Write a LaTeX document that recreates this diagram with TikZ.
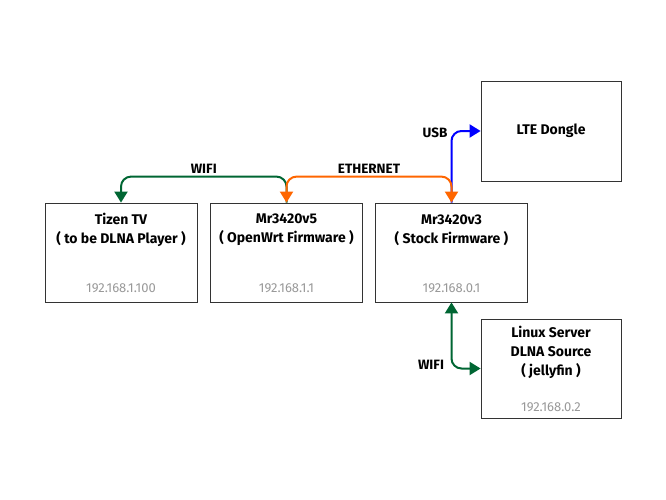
\documentclass[tikz,border=0pt]{standalone}
\usepackage{fontspec}
\setmainfont{Fira Sans}
\usetikzlibrary{arrows.meta}
\definecolor{wifigreen}{HTML}{006633}
\definecolor{ethorange}{HTML}{FF6600}
\definecolor{usbblue}{HTML}{0000FF}
\definecolor{ipgray}{HTML}{999999}
\begin{document}
\begin{tikzpicture}[x=1pt, y=-1pt, >={Triangle[length=11pt,width=13pt]},
    box/.style={draw=black!80, line width=0.8pt, minimum width=152pt, minimum height=99pt, inner sep=0pt},
    title/.style={align=center, font=\fontsize{14}{19}\selectfont\bfseries},
    ip/.style={font=\fontsize{13}{15}\selectfont, text=ipgray},
    link/.style={line width=2pt, rounded corners=10pt},
    lbl/.style={font=\fontsize{13.5}{15}\selectfont\bfseries}]
    \useasboundingbox (0,0) rectangle (666,500);
    % Geraete
    \node[box] (tv) at (121, 252.5) {};
    \node[box] (v5) at (286.5, 252.5) {};
    \node[box] (v3) at (451.5, 252.5) {};
    \node[box, minimum width=140pt, minimum height=100pt] (lte) at (551, 131) {};
    \node[box, minimum width=140pt, minimum height=99pt] (srv) at (551, 368.5) {};
    % Beschriftungen
    \node[title] (tvname) at (121, 230) {Tizen TV\\( to be DLNA Player )};
    \node[title] (v5name) at (286.5, 230) {Mr3420v5\\( OpenWrt Firmware )};
    \node[title] (v3name) at (451.5, 230) {Mr3420v3\\( Stock Firmware )};
    \node[title] (ltename) at (551, 131) {LTE Dongle};
    \node[title] (srvname) at (551, 352) {Linux Server\\DLNA Source\\( jellyfin )};
    \node[ip] (tvip) at (121, 288) {192.168.1.100};
    \node[ip] (v5ip) at (286.5, 288) {192.168.1.1};
    \node[ip] (v3ip) at (451.5, 288) {192.168.0.1};
    \node[ip] (srvip) at (551, 407) {192.168.0.2};
    % Verbindungen
    \draw[link, wifigreen, ->] (v5.north) -- ++(0,-26) -| node[pos=0.25, above=-1pt, lbl, black] (wifitop) {WIFI} (tv.north);
    \draw[link, usbblue, ->] (v3.north) |- (lte.west);
    \draw[link, ethorange, <->] (v5.north) -- ++(0,-26) -| node[pos=0.25, above=-1pt, lbl, black] (ethlbl) {ETHERNET} (v3.north);
    \draw[link, wifigreen, <->] (v3.south) |- (srv.west);
    \node[lbl] (usblbl) at (435, 133) {USB};
    \node[lbl] (wifibot) at (431, 365) {WIFI};
\end{tikzpicture}
\end{document}
